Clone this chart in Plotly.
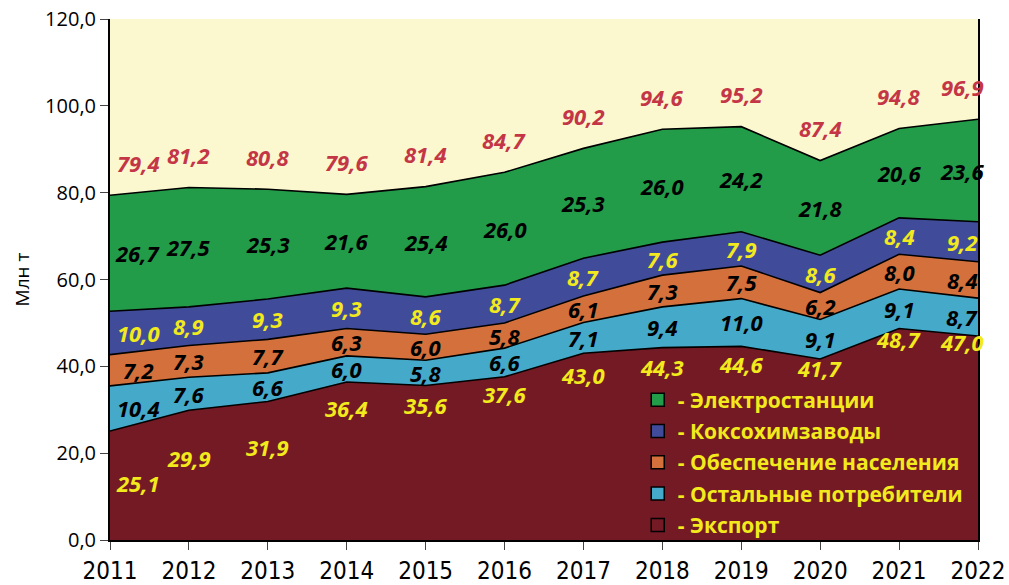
import plotly.graph_objects as go

years = [2011, 2012, 2013, 2014, 2015, 2016, 2017, 2018, 2019, 2020, 2021, 2022]
export = [25.1, 29.9, 31.9, 36.4, 35.6, 37.6, 43.0, 44.3, 44.6, 41.7, 48.7, 47.0]
others = [10.4, 7.6, 6.6, 6.0, 5.8, 6.6, 7.1, 9.4, 11.0, 9.1, 9.1, 8.7]
population = [7.2, 7.3, 7.7, 6.3, 6.0, 5.8, 6.1, 7.3, 7.5, 6.2, 8.0, 8.4]
coke = [10.0, 8.9, 9.3, 9.3, 8.6, 8.7, 8.7, 7.6, 7.9, 8.6, 8.4, 9.2]
power = [26.7, 27.5, 25.3, 21.6, 25.4, 26.0, 25.3, 26.0, 24.2, 21.8, 20.6, 23.6]
totals = [79.4, 81.2, 80.8, 79.6, 81.4, 84.7, 90.2, 94.6, 95.2, 87.4, 94.8, 96.9]

# label placement (style): how far below the export edge its value label sits
export_label_drop = [12, 11, 10.5, 6, 4.5, 4, 5, 4.5, 4, 2, 2.5, 1.5]

series = [
    ("- Экспорт", export, "#741a24", "#f2ea1c"),
    ("- Остальные потребители", others, "#45a9c9", "#000000"),
    ("- Обеспечение населения", population, "#d4703b", "#000000"),
    ("- Коксохимзаводы", coke, "#404c9a", "#f2ea1c"),
    ("- Электростанции", power, "#239c49", "#000000"),
]

FONT = "Open Sans"
NUMFONT = 22
fig = go.Figure()
for name, vals, col, _ in series:
    fig.add_trace(go.Scatter(
        x=years, y=vals, name=name, mode="lines", stackgroup="one",
        line=dict(color="#000000", width=1.6), fillcolor=col, showlegend=False,
    ))

# legend entries (square swatches), top to bottom
for gi, (name, vals, col, _) in enumerate(reversed(series)):
    fig.add_trace(go.Scatter(
        x=[None], y=[None], mode="markers", name=f"<b>{name}</b>",
        legendgroup=f"g{gi}",
        marker=dict(symbol="square", size=13, color=col, line=dict(color="black", width=1.5)),
    ))

def fmt(v):
    return f"{v:.1f}".replace(".", ",")

def xshift(i):
    if i == 0:
        return 28
    if i == len(years) - 1:
        return -16
    return 0

base = [0.0] * len(years)
for k, (name, vals, col, tcol) in enumerate(series):
    for i, yr in enumerate(years):
        if k == 0:
            ypos = vals[i] - export_label_drop[i]
        else:
            ypos = base[i] + vals[i] / 2
        fig.add_annotation(x=yr, y=ypos, text=f"<b><i>{fmt(vals[i])}</i></b>",
                           showarrow=False, xanchor="center", xshift=xshift(i),
                           font=dict(family=FONT, size=NUMFONT, color=tcol))
    base = [b + v for b, v in zip(base, vals)]

for i, yr in enumerate(years):
    fig.add_annotation(x=yr, y=totals[i] + 7.5, text=f"<b><i>{fmt(totals[i])}</i></b>",
                       showarrow=False, xanchor="center", xshift=xshift(i),
                       font=dict(family=FONT, size=NUMFONT, color="#c43646"))

fig.update_layout(
    width=1009, height=585,
    margin=dict(l=110, r=31, t=19, b=45),
    paper_bgcolor="white", plot_bgcolor="#fbf8d0",
    separators=", ",
    font=dict(family=FONT, size=20, color="#000000"),
    showlegend=True,
    legend=dict(x=0.608, y=0.308, xanchor="left", yanchor="top",
                traceorder="grouped", bgcolor="rgba(0,0,0,0)",
                font=dict(family=FONT, size=21, color="#f2ea1c"),
                itemwidth=30, tracegroupgap=1),
)
fig.update_xaxes(range=[2011, 2022], tickvals=years, ticks="outside", ticklen=8,
                 showgrid=False, showline=True, linecolor="black", linewidth=2,
                 tickfont=dict(family="Liberation Sans Narrow, DejaVu Sans Condensed, Open Sans", size=24),
                 zeroline=False, automargin=False)
fig.update_yaxes(range=[0, 120], dtick=20, tickformat=".1f", ticks="outside", ticklen=8,
                 showgrid=False, showline=True, mirror=True, linecolor="black", linewidth=2,
                 title=dict(text="Млн т", font=dict(size=19), standoff=10), tickfont=dict(size=20),
                 zeroline=False, automargin=False)

fig.write_html("out.html", config={"displayModeBar": False},
               post_script="document.body.style.margin='0';")
